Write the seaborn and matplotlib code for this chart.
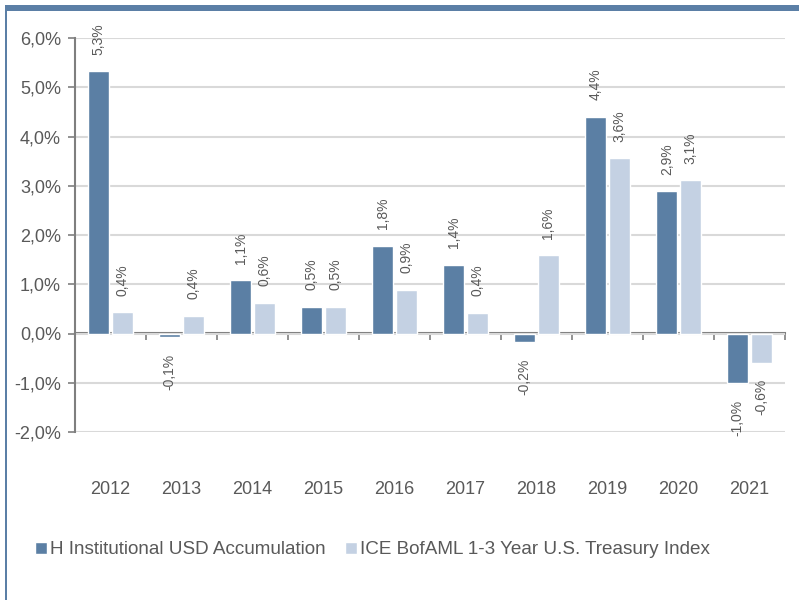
import pandas as pd
import numpy as np
import matplotlib.pyplot as plt
import seaborn as sns
from matplotlib.patches import Rectangle
from matplotlib.ticker import FuncFormatter, MultipleLocator

years = ['2012', '2013', '2014', '2015', '2016', '2017', '2018', '2019', '2020', '2021']
fund = [5.32, -0.08, 1.08, 0.54, 1.78, 1.40, -0.17, 4.40, 2.89, -1.00]
index = [0.43, 0.36, 0.62, 0.54, 0.89, 0.42, 1.59, 3.56, 3.11, -0.59]
series = ['H Institutional USD Accumulation', 'ICE BofAML 1-3 Year U.S. Treasury Index']
colors = ['#5b7fa4', '#c4d1e3']

df = pd.DataFrame({
    'year': years * 2,
    'value': fund + index,
    'series': [series[0]] * len(years) + [series[1]] * len(years),
})

sns.set_style('white')
plt.rcParams['font.family'] = ['Liberation Sans', 'DejaVu Sans']
txt = '#595959'

fig = plt.figure(figsize=(7.99, 6.0), dpi=100)
ax = fig.add_axes([75 / 799, 1 - 432 / 600, 710 / 799, 394 / 600])

sns.barplot(data=df, x='year', y='value', hue='series', palette=colors,
            width=0.66, gap=0.12, saturation=1, ax=ax, legend=True)

ax.set_ylim(-2, 6)
ax.set_xlim(-0.5, len(years) - 0.5)
ax.yaxis.set_major_locator(MultipleLocator(1))
ax.yaxis.set_major_formatter(FuncFormatter(lambda v, p: f'{v:.1f}%'.replace('.', ',')))
ax.grid(axis='y', color='#d9d9d9', linewidth=1.5)
ax.set_axisbelow(True)
ax.set_xlabel('')
ax.set_ylabel('')

for s in ['top', 'right', 'bottom']:
    ax.spines[s].set_visible(False)
ax.spines['left'].set_color('#7f7f7f')
ax.spines['left'].set_linewidth(1.5)
ax.tick_params(axis='y', left=True, length=5, width=1.2, color='#7f7f7f',
               labelsize=13, labelcolor=txt, pad=5)
ax.tick_params(axis='x', bottom=False, labelsize=13, labelcolor=txt, pad=32)

# zero line with category boundary ticks
sec = ax.secondary_xaxis(2 / 8)
sec.spines['bottom'].set_color('#7f7f7f')
sec.spines['bottom'].set_linewidth(1.5)
sec.set_xticks(np.arange(len(years) + 1) - 0.5)
sec.tick_params(axis='x', length=5, width=1.2, color='#7f7f7f', labelbottom=False)

for c in ax.containers:
    ax.bar_label(c, labels=[f'{v:.1f}%'.replace('.', ',') for v in c.datavalues],
                 rotation=90, padding=12, fontsize=10, color=txt)

handles, labels = ax.get_legend_handles_labels()
ax.get_legend().remove()
fig.legend(handles, labels, loc='center left', bbox_to_anchor=(18 / 799, 1 - 550 / 600),
           ncol=2, frameon=False, fontsize=13.6, labelcolor=txt,
           handlelength=0.65, handleheight=0.65, handletextpad=0.15, columnspacing=1.0)

# frame lines of the card
fig.add_artist(Rectangle((5 / 799, 1 - 11 / 600), 794 / 799, 6 / 600,
                         transform=fig.transFigure, color='#5b7fa6', lw=0))
fig.add_artist(Rectangle((5 / 799, 0), 2.5 / 799, 1 - 5 / 600,
                         transform=fig.transFigure, color='#5b7fa6', lw=0))

fig.savefig('out.png', dpi=100)
